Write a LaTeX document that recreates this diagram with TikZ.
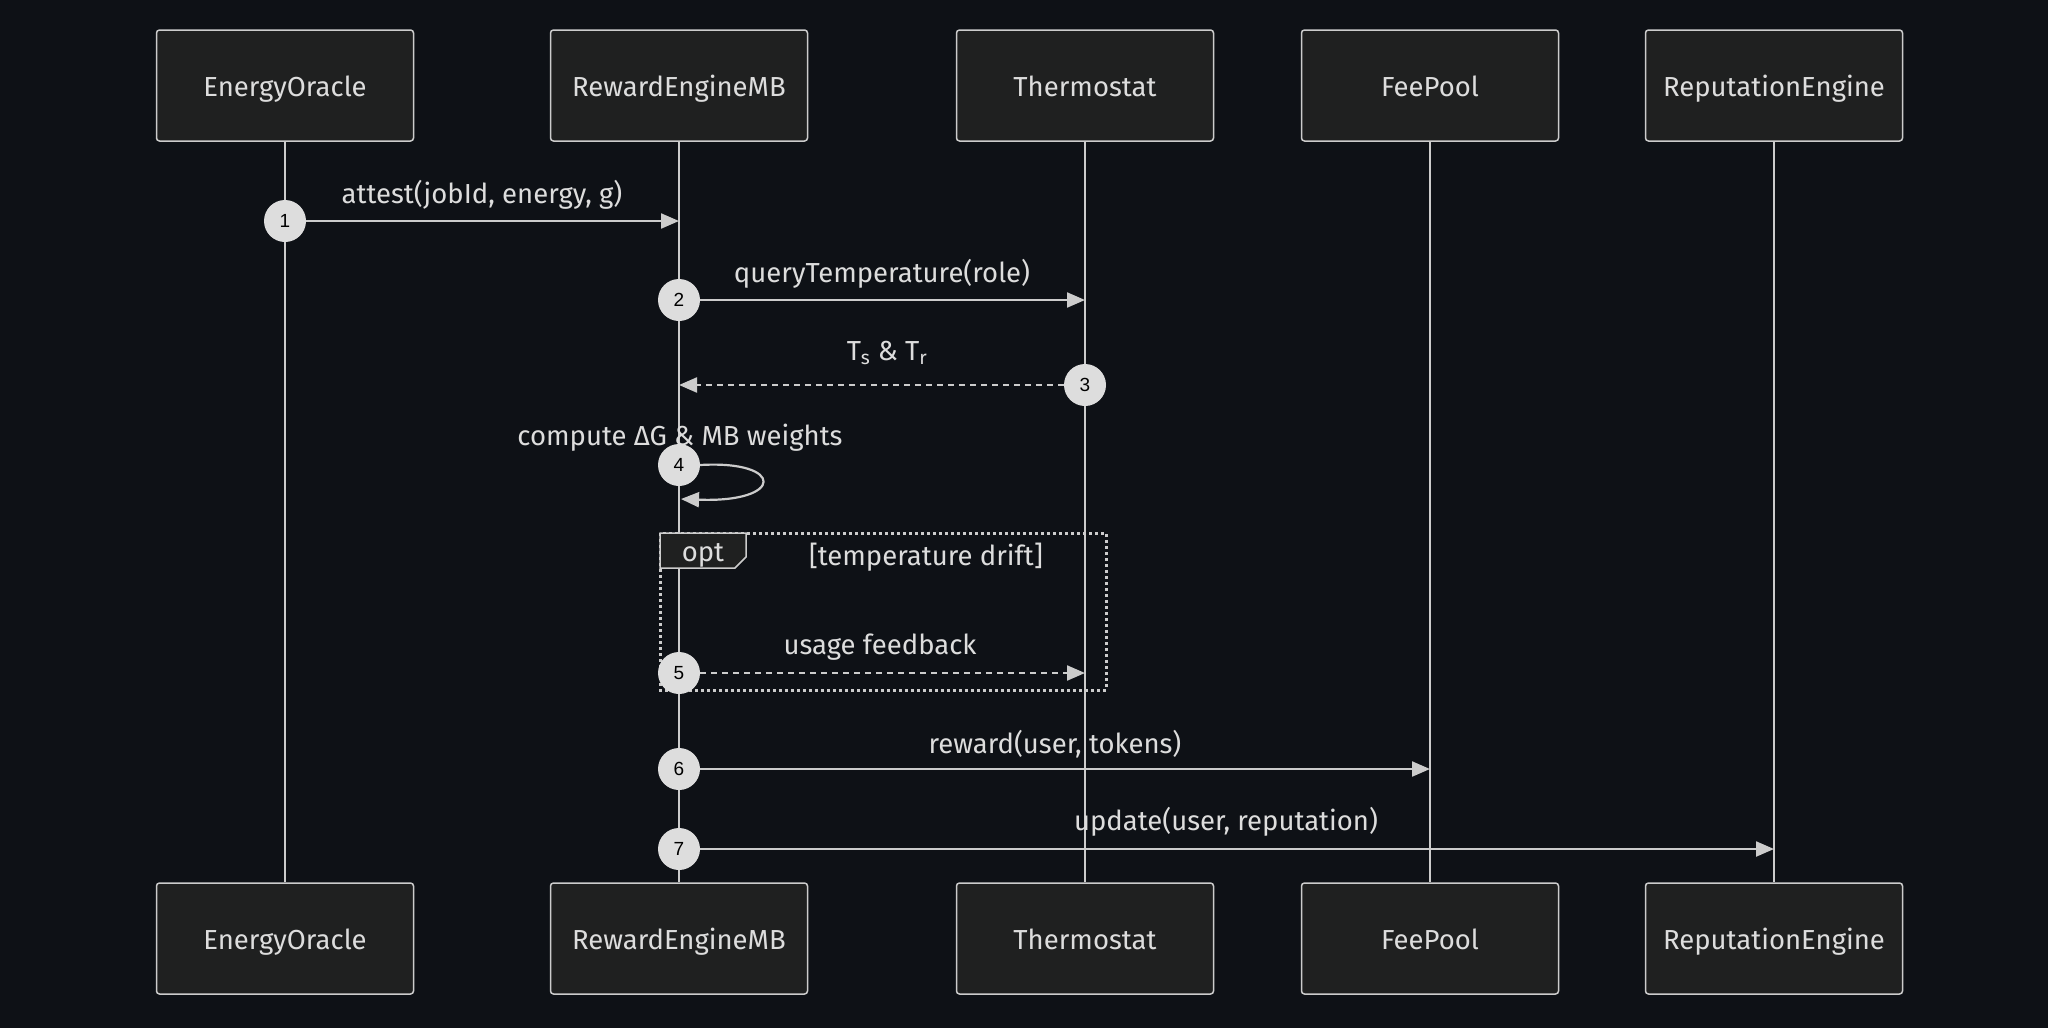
\documentclass[tikz,border=0pt]{standalone}
\usepackage{fontspec}
\setmainfont{Fira Sans}
\newfontfamily\numfont{Liberation Sans}
\usetikzlibrary{arrows.meta}
\definecolor{cBg}{HTML}{0E1116}
\definecolor{cBox}{HTML}{1F2020}
\definecolor{cLine}{HTML}{CCCCCC}
\definecolor{cText}{HTML}{DDDDDD}
\definecolor{cDot}{HTML}{DDDDDD}

\begin{document}
\begin{tikzpicture}[x=1pt,y=-1pt,font=\fontsize{27.5}{32}\selectfont,
  actor/.style={draw=cLine,line width=1.5pt,fill=cBox,rounded corners=3pt,
    minimum width=257pt,minimum height=111pt,text=cText,text height=24pt,text depth=3pt},
  life/.style={cLine,line width=2.8pt},
  seqnum/.style={circle,fill=cDot,minimum size=42pt,inner sep=0pt,
    font=\numfont\fontsize{19}{19}\selectfont,text=black},
  msg/.style={cLine,line width=2.2pt,-{Triangle[length=18pt,width=15pt]}},
  reply/.style={msg,dash pattern=on 6pt off 5pt},
  lbl/.style={text=cText,yshift=-2pt}]
\fill[cBg] (0,0) rectangle (2048,1028);
% actors and lifelines
\foreach \x/\n/\t in {285/eo/EnergyOracle,679/re/RewardEngineMB,1085/th/Thermostat,
    1430/fp/FeePool,1774/rp/ReputationEngine}{
  \node[actor] (\n-top) at (\x,85.5) {\t};
  \node[actor] (\n-bot) at (\x,938.5) {\t};
  \draw[life] (\n-top) -- (\n-bot);
}
% opt frame
\draw[cLine,line width=3pt,dash pattern=on 3pt off 3pt] (660,533) rectangle (1106,690);
\draw[cLine,fill=cBox,line width=1.5pt] (660,533) -- (746,533) -- (746,557) -- (735,568) -- (660,568) -- cycle;
\node[lbl] (optlbl) at (703,553) {opt};
\node[lbl] (cond) at (926,555) {[temperature drift]};
% messages
\node[seqnum] (s1) at (285,221) {1}; \coordinate (e1) at (679,221);
\draw[msg] (s1) -- (e1); \node[lbl] (l1) at (482,193) {attest(jobId, energy, g)};
\node[seqnum] (s2) at (679,300) {2}; \coordinate (e2) at (1085,300);
\draw[msg] (s2) -- (e2); \node[lbl] (l2) at (882,272) {queryTemperature(role)};
\node[seqnum] (s3) at (1085,385) {3}; \coordinate (e3) at (679,385);
\draw[reply] (s3) -- (e3); \node[lbl] (l3) at (887,351) {T\textsubscript{s} \& T\textsubscript{r}};
\node[seqnum] (s4) at (679,465) {4}; \coordinate (e4) at (681,499);
\draw[msg] (s4.east) .. controls (785,460) and (785,503) .. (e4);
\node[lbl] (l4) at (680,436) {compute ΔG \& MB weights};
\node[seqnum] (s5) at (679,673) {5}; \coordinate (e5) at (1085,673);
\draw[reply] (s5) -- (e5); \node[lbl] (l5) at (880,645) {usage feedback};
\node[seqnum] (s6) at (679,769) {6}; \coordinate (e6) at (1430,769);
\draw[msg] (s6) -- (e6); \node[lbl] (l6) at (1055,742) {reward(user, tokens)};
\node[seqnum] (s7) at (679,849) {7}; \coordinate (e7) at (1774,849);
\draw[msg] (s7) -- (e7); \node[lbl] (l7) at (1226,820) {update(user, reputation)};
\end{tikzpicture}
\end{document}
